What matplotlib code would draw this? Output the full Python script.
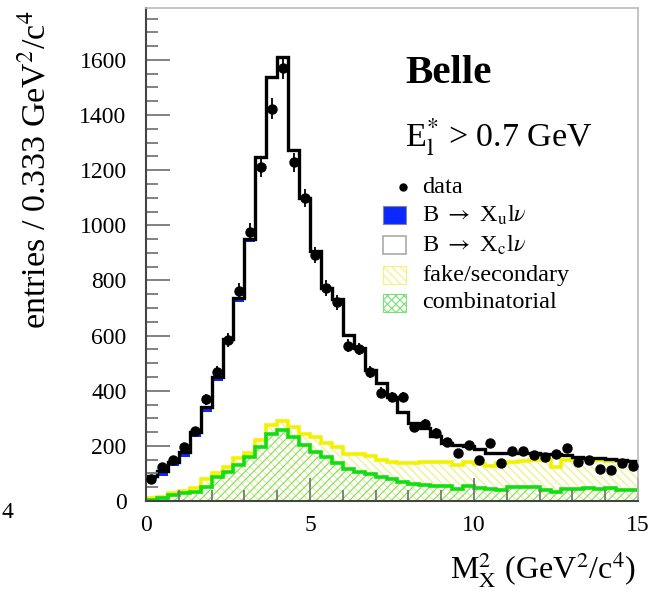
import numpy as np
import matplotlib
matplotlib.use('Agg')
import matplotlib.pyplot as plt
from matplotlib.patches import Rectangle
from matplotlib.lines import Line2D
from matplotlib.ticker import MultipleLocator

# binning: 45 bins of 1/3 GeV^2/c^4 between 0 and 15
edges = np.linspace(0, 15, 46)
centers = 0.5 * (edges[:-1] + edges[1:])

# stacked MC: total (black), B->Xu part on top (blue), fake+comb (yellow), comb (green)
mc_total = [90, 108, 143, 179, 251, 340, 451, 587, 737, 950, 1249, 1537, 1612, 1273,
            1100, 908, 773, 733, 602, 555, 475, 428, 378, 323, 282, 264, 236, 209,
            203, 200, 187, 175, 175, 175, 173, 173, 172, 172, 168, 160, 157, 155,
            152, 147, 145]
xu_part = [10, 16, 16, 18, 18, 16, 16, 14, 14, 12, 8, 6, 5, 4, 4, 3, 3, 3, 3, 3, 2,
           2, 2, 2, 2, 2, 2, 2, 2, 2, 2, 2, 2, 2, 2, 2, 2, 2, 2, 2, 2, 2, 2, 2, 2]
fake_comb = [10, 16, 28, 36, 46, 79, 103, 124, 155, 175, 221, 276, 291, 270, 242,
             233, 212, 197, 171, 171, 163, 149, 140, 138, 137, 141, 142, 142, 131,
             143, 135, 127, 137, 143, 146, 148, 148, 124, 148, 150, 153, 150, 146,
             146, 143]
comb = [4, 10, 22, 28, 34, 52, 86, 106, 131, 161, 197, 243, 258, 233, 203, 179, 161,
        139, 115, 106, 98, 88, 78, 70, 62, 58, 55, 55, 42, 55, 46, 42, 40, 52, 49,
        52, 40, 34, 44, 44, 46, 44, 46, 40, 40]

# data points
data = [80, 123, 149, 197, 254, 369, 469, 584, 763, 977, 1212, 1422, 1570, 1229,
        1100, 893, 773, 720, 563, 551, 469, 393, 377, 378, 270, 279, 248, 213, 173,
        203, 149, 209, 137, 183, 181, 167, 161, 169, 194, 143, 149, 115, 112, 139, 127]
data_err = [9, 11, 12, 14, 16, 19, 22, 24, 28, 31, 35, 38, 40, 35, 33, 30, 28, 27,
            24, 23, 22, 20, 19, 19, 16, 17, 16, 15, 13, 14, 12, 14, 12, 14, 13, 13,
            13, 13, 14, 12, 12, 11, 11, 12, 11]

YELLOW = '#f2f200'
GREEN = '#11dd11'
BLUE = '#0a28ff'

plt.rcParams['font.family'] = 'Liberation Serif'
plt.rcParams['mathtext.fontset'] = 'stix'
plt.rcParams['hatch.linewidth'] = 0.8

fig = plt.figure(figsize=(6.6, 5.96), dpi=100)
W, H = 660., 596.
ax = fig.add_axes([146 / W, 1 - 501 / H, (638 - 146) / W, (501 - 7.5) / H])

tot = np.array(mc_total)
# hatched backgrounds
ax.stairs(fake_comb, edges, baseline=0, fill=True, facecolor='none',
          edgecolor='#eeee77', hatch='\\\\\\\\', lw=0)
ax.stairs(comb, edges, baseline=0, fill=True, facecolor='none',
          edgecolor='#77dd77', hatch='////', lw=0)
ax.stairs(fake_comb, edges, baseline=None, color=YELLOW, lw=2.6)
ax.stairs(comb, edges, baseline=None, color=GREEN, lw=2.6)
# B -> Xu band on top of the stack
ax.stairs(tot, edges, baseline=tot - np.array(xu_part), fill=True, color=BLUE, lw=0)
ax.stairs(tot, edges, baseline=None, color='black', lw=2.4)
# data
ax.errorbar(centers, data, yerr=data_err, fmt='o', color='black', ms=6.5,
            elinewidth=1.3, capsize=0, zorder=5)

ax.set_xlim(0, 15)
ax.set_ylim(0, 1790)
ax.xaxis.set_major_locator(MultipleLocator(5))
ax.xaxis.set_minor_locator(MultipleLocator(1))
ax.yaxis.set_major_locator(MultipleLocator(200))
ax.yaxis.set_minor_locator(MultipleLocator(50))
ax.tick_params(which='both', direction='in', color='#777777', width=1.3,
               labelsize=17, top=False, right=False)
ax.tick_params(axis='y', which='major', length=17, pad=14)
ax.tick_params(axis='y', which='minor', length=8.5)
ax.tick_params(axis='x', which='major', length=16.5, pad=10)
ax.tick_params(axis='x', which='minor', length=8)
for s in ['left', 'bottom']:
    ax.spines[s].set_color('#444444')
    ax.spines[s].set_linewidth(1.5)
for s in ['top', 'right']:
    ax.spines[s].set_color('#bbbbbb')
    ax.spines[s].set_linewidth(1.2)

# axis titles
fig.text(36 / W, 1 - 10 / H, 'entries / 0.333 GeV$^2$/c$^4$', rotation=90,
         ha='center', va='top', fontsize=24.5)
fig.text(636 / W, 1 - 579 / H, r'M$_\mathrm{X}^2$ (GeV$^2$/c$^4$)',
         ha='right', va='baseline', fontsize=23)
fig.text(1 / W, 1 - 512 / H, '4', ha='left', va='center', fontsize=17)

# labels
fig.text(405 / W, 1 - 83 / H, 'Belle', fontsize=29.5, fontweight='bold', va='baseline')
fig.text(405 / W, 1 - 147 / H, r'E$_\mathrm{l}^{*}$ > 0.7 GeV', fontsize=24.5,
         va='baseline')

# legend, drawn by hand
rows = [187, 215, 245, 275, 303]
labels = ['data', r'B $\rightarrow$ X$_\mathrm{u}$l$\nu$', r'B $\rightarrow$ X$_\mathrm{c}$l$\nu$',
          'fake/secondary', 'combinatorial']
boxes = [None,
         dict(facecolor=BLUE, edgecolor='#888888', lw=0.8),
         dict(facecolor='white', edgecolor='#aaaaaa', lw=1.2),
         dict(facecolor='white', edgecolor='#f5f07a', hatch='\\\\\\\\', lw=0.8),
         dict(facecolor='white', edgecolor='#77e077', hatch='xxxx', lw=0.8)]
for yc, lab, bx in zip(rows, labels, boxes):
    if bx is None:
        fig.add_artist(Line2D([403 / W], [1 - yc / H], marker='o', ms=5, color='black',
                              transform=fig.transFigure))
    else:
        fig.add_artist(Rectangle((383 / W, 1 - (yc + 9) / H), 23 / W, 18 / H,
                                 transform=fig.transFigure, **bx))
    fig.text(422 / W, 1 - yc / H, lab, fontsize=17.5, va='center')

fig.savefig('out.png', dpi=100)
